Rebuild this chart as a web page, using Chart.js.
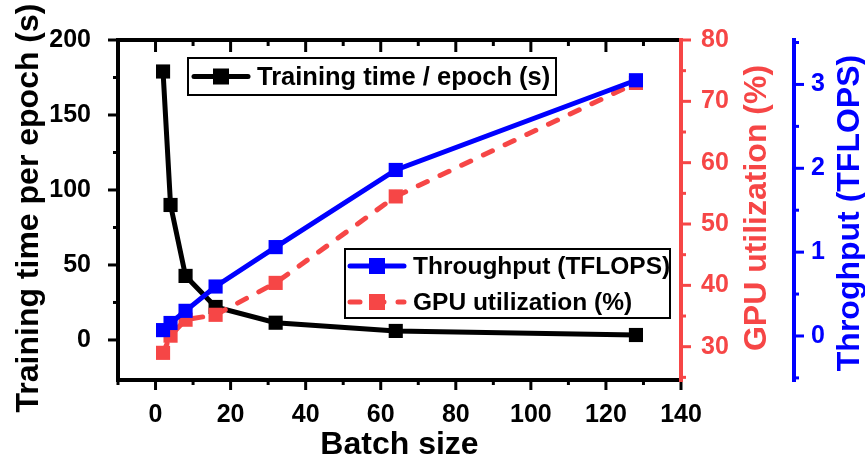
<!DOCTYPE html>
<html>
<head>
<meta charset="utf-8">
<script src="https://cdn.jsdelivr.net/npm/chart.js@4"></script>
<style>
  html, body { margin: 0; padding: 0; background: #fff; }
  canvas { display: block; }
</style>
</head>
<body>
<canvas id="chart" width="865" height="463"></canvas>
<script>
// values
const batchSizes = [2, 4, 8, 16, 32, 64, 128];
const trainingTime = [179, 90, 42.7, 22, 11.5, 6, 3.3];
const gpuUtilization = [29.0, 31.8, 34.4, 35.2, 40.4, 54.5, 73.0];
const throughput = [0.07, 0.155, 0.3, 0.59, 1.06, 1.98, 3.05];

const xTicks = [0, 20, 40, 60, 80, 100, 120, 140];
const timeTicks = [0, 50, 100, 150, 200];
const gpuTicks = [30, 40, 50, 60, 70, 80];
const tputTicks = [0, 1, 2, 3];

const COLORS = { BLACK: '#000000', RED: '#f64646', BLUE: '#0000ff' };
const FONT = '"Liberation Sans", Arial, sans-serif';

const toPoints = (ys) => batchSizes.map((x, i) => ({ x: x, y: ys[i] }));
const setTicks = (values) => (scale) => { scale.ticks = values.map(v => ({ value: v })); };
const tickFont = { family: FONT, size: 25, weight: 'bold' };

// axis lines + major/minor tick marks, drawn from the scales
const framePlugin = {
    id: 'frame',
    beforeDatasetsDraw(chart) {
        const ctx = chart.ctx;
        const a = chart.chartArea;
        const s = chart.scales;
        ctx.save();
        ctx.lineCap = 'butt';

        const line = (x1, y1, x2, y2, color, w) => {
            ctx.strokeStyle = color;
            ctx.lineWidth = w;
            ctx.beginPath();
            ctx.moveTo(x1, y1);
            ctx.lineTo(x2, y2);
            ctx.stroke();
        };

        // x ticks: bottom outward, top inward
        for (let v = -10; v <= 140; v += 10) {
            const px = s.x.getPixelForValue(v);
            const major = v % 20 === 0;
            line(px, a.bottom, px, a.bottom + (major ? 10 : 5), COLORS.BLACK, 3);
            line(px, a.top, px, a.top + (major ? 12 : 6), COLORS.BLACK, 3);
        }
        // left ticks
        for (let v = 0; v <= 200; v += 25) {
            const py = s.y.getPixelForValue(v);
            line(a.left - (v % 50 === 0 ? 10 : 5), py, a.left, py, COLORS.BLACK, 3);
        }
        // gpu ticks
        for (let v = 25; v <= 80; v += 5) {
            const py = s.gpu.getPixelForValue(v);
            line(s.gpu.left, py, s.gpu.left + (v % 10 === 0 ? 10 : 5), py, COLORS.RED, 3);
        }
        // throughput ticks
        for (let v = -0.5; v <= 3.5; v += 0.5) {
            const py = s.tput.getPixelForValue(v);
            line(s.tput.left, py, s.tput.left + (Number.isInteger(v) ? 10 : 5), py, COLORS.BLUE, 3);
        }

        line(a.left, a.top - 2, a.left, a.bottom + 2, COLORS.BLACK, 4);
        line(a.left - 2, a.top, a.right, a.top, COLORS.BLACK, 4);
        line(a.left - 2, a.bottom, a.right + 2, a.bottom, COLORS.BLACK, 4);
        line(a.right, a.top - 2, a.right, a.bottom + 2, COLORS.RED, 4);
        line(s.tput.left, a.top - 2, s.tput.left, a.bottom + 2, COLORS.BLUE, 4);
        ctx.restore();
    }
};

const legendItem = (ctx, x, y, color, dash, label, size) => {
    ctx.strokeStyle = color;
    ctx.lineWidth = 5;
    ctx.lineCap = 'round';
    ctx.setLineDash(dash);
    ctx.beginPath();
    ctx.moveTo(x + 2, y);
    ctx.lineTo(x + 56, y);
    ctx.stroke();
    ctx.setLineDash([]);
    ctx.fillStyle = color;
    ctx.fillRect(x + 21, y - 8, 16, 16);
    ctx.fillStyle = COLORS.BLACK;
    ctx.font = 'bold ' + size + 'px ' + FONT;
    ctx.textAlign = 'left';
    ctx.textBaseline = 'middle';
    ctx.fillText(label, x + 65, y + 1);
};

const legendPlugin = {
    id: 'boxLegends',
    afterDatasetsDraw(chart) {
        const ctx = chart.ctx;
        ctx.save();
        ctx.lineWidth = 2;
        ctx.fillStyle = '#fff';
        ctx.strokeStyle = COLORS.BLACK;
        ctx.fillRect(188, 58, 368, 37);
        ctx.strokeRect(188, 58, 368, 37);
        legendItem(ctx, 192, 76.5, COLORS.BLACK, [], 'Training time / epoch (s)', 25.5);

        ctx.lineWidth = 2;
        ctx.fillStyle = '#fff';
        ctx.strokeStyle = COLORS.BLACK;
        ctx.fillRect(345, 249, 325, 69);
        ctx.strokeRect(345, 249, 325, 69);
        legendItem(ctx, 348, 266, COLORS.BLUE, [], 'Throughput (TFLOPS)', 24.5);
        legendItem(ctx, 348, 302, COLORS.RED, [10, 14], 'GPU utilization (%)', 24.5);
        ctx.restore();
    }
};

const titlePlugin = {
    id: 'axisTitles',
    afterDraw(chart) {
        const ctx = chart.ctx;
        const a = chart.chartArea;
        const midY = (a.top + a.bottom) / 2;
        const vertical = (text, x, y, color) => {
            ctx.save();
            ctx.translate(x, y);
            ctx.rotate(-Math.PI / 2);
            ctx.fillStyle = color;
            ctx.fillText(text, 0, 0);
            ctx.restore();
        };
        ctx.save();
        ctx.font = 'bold 32px ' + FONT;
        ctx.textAlign = 'center';
        ctx.textBaseline = 'middle';
        ctx.fillStyle = COLORS.BLACK;
        ctx.fillText('Batch size', (a.left + a.right) / 2, 445);
        vertical('Training time per epoch (s)', 29, midY - 2, COLORS.BLACK);
        vertical('GPU utilization (%)', 757, midY - 2, COLORS.RED);
        vertical('Throghput (TFLOPS)', 850, midY + 3, COLORS.BLUE);
        ctx.restore();
    }
};

const config = {
    type: 'line',
    data: {
        datasets: [
            {
                label: 'Throughput (TFLOPS)',
                data: toPoints(throughput),
                yAxisID: 'tput',
                order: 0,
                borderColor: COLORS.BLUE,
                backgroundColor: COLORS.BLUE,
                borderWidth: 5,
                pointStyle: 'rect',
                pointRadius: 10,
                pointBorderWidth: 0,
            },
            {
                label: 'GPU utilization (%)',
                data: toPoints(gpuUtilization),
                yAxisID: 'gpu',
                order: 1,
                borderColor: COLORS.RED,
                backgroundColor: COLORS.RED,
                borderWidth: 5,
                borderDash: [10, 14],
                borderCapStyle: 'round',
                pointStyle: 'rect',
                pointRadius: 10,
                pointBorderWidth: 0,
            },
            {
                label: 'Training time / epoch (s)',
                data: toPoints(trainingTime),
                yAxisID: 'y',
                order: 2,
                borderColor: COLORS.BLACK,
                backgroundColor: COLORS.BLACK,
                borderWidth: 5,
                pointStyle: 'rect',
                pointRadius: 10,
                pointBorderWidth: 0,
            },
        ],
    },
    options: {
        responsive: false,
        animation: false,
        layout: { padding: { top: 40, left: 0, right: 0, bottom: 0 } },
        plugins: {
            legend: { display: false },
            tooltip: { enabled: false },
        },
        scales: {
            x: {
                type: 'linear',
                position: 'bottom',
                min: -10,
                max: 140,
                afterBuildTicks: setTicks(xTicks),
                afterFit: (scale) => { scale.height = 83; },
                grid: { display: false },
                border: { display: false },
                ticks: { color: COLORS.BLACK, font: tickFont, padding: 12, maxRotation: 0, autoSkip: false },
            },
            y: {
                position: 'left',
                min: -26.7,
                max: 200,
                afterBuildTicks: setTicks(timeTicks),
                afterFit: (scale) => { scale.width = 118; },
                grid: { display: false },
                border: { display: false },
                ticks: { color: COLORS.BLACK, font: tickFont, padding: 19 },
            },
            gpu: {
                position: 'right',
                weight: 0,
                min: 24.57,
                max: 80,
                afterBuildTicks: setTicks(gpuTicks),
                afterFit: (scale) => { scale.width = 113; },
                grid: { display: false },
                border: { display: false },
                ticks: { color: COLORS.RED, font: tickFont, padding: 12 },
            },
            tput: {
                position: 'right',
                weight: 1,
                min: -0.525,
                max: 3.53,
                afterBuildTicks: setTicks(tputTicks),
                afterFit: (scale) => { scale.width = 71; },
                grid: { display: false },
                border: { display: false },
                ticks: { color: COLORS.BLUE, font: tickFont, padding: 9 },
            },
        },
    },
    plugins: [framePlugin, legendPlugin, titlePlugin],
};

new Chart(document.getElementById('chart'), config);
</script>
</body>
</html>
